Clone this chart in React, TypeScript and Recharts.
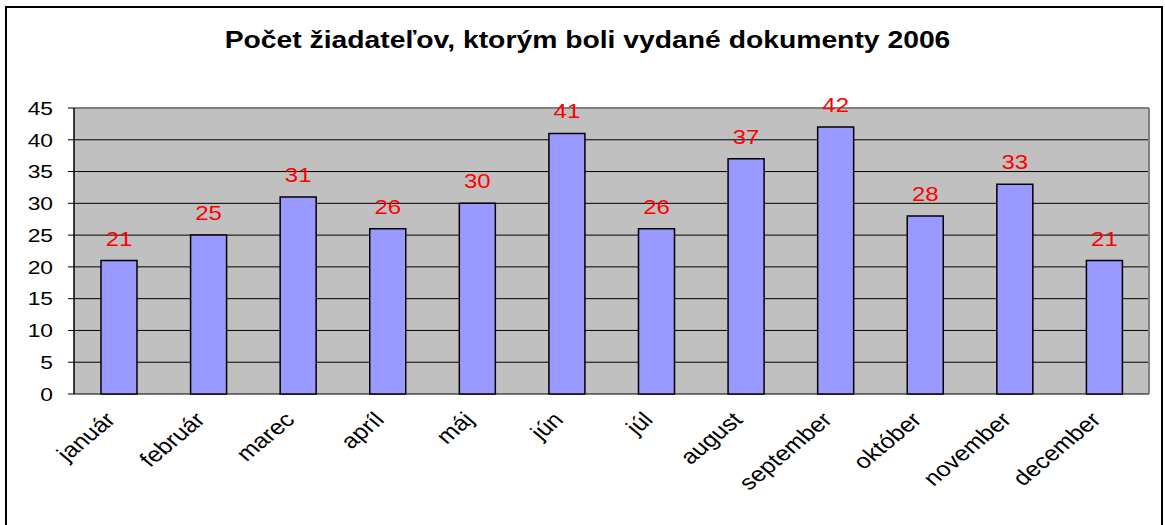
import React from 'react'
import { BarChart, Bar, XAxis, YAxis, CartesianGrid, LabelList } from 'recharts'

const months = ['január', 'február', 'marec', 'apríl', 'máj', 'jún', 'júl', 'august', 'september', 'október', 'november', 'december']
const counts = [21, 25, 31, 26, 30, 41, 26, 37, 42, 28, 33, 21]
const yTicks = [0, 5, 10, 15, 20, 25, 30, 35, 40, 45]
const boundaryTicks = [0, 1, 2, 3, 4, 5, 6, 7, 8, 9, 10, 11, 12]

const data = months.map((m, i) => ({ month: m, value: counts[i] }))

const FONT = '"Liberation Sans", Arial, sans-serif'
// the original picture is stretched sideways a little, so are its letters
const STRETCH = 1.2

const MonthTick = (props: any) => {
  const { x, y, payload } = props
  return (
    <text
      transform={`translate(${x - 2}, ${y + 19}) scale(${STRETCH}, 1) rotate(-45)`}
      textAnchor="end"
      fontSize={21}
      fontFamily={FONT}
      fill="#000"
    >
      {payload.value}
    </text>
  )
}

const ValueTick = (props: any) => {
  const { x, y, payload } = props
  return (
    <text
      transform={`translate(${x}, ${y}) scale(${STRETCH}, 1)`}
      dy="0.355em"
      textAnchor="end"
      fontSize={19}
      fontFamily={FONT}
      fill="#000"
    >
      {payload.value}
    </text>
  )
}

const BarValue = (props: any) => {
  const { x, y, width, value } = props
  return (
    <text
      transform={`translate(${x + width / 2}, ${y - 15}) scale(${STRETCH}, 1)`}
      textAnchor="middle"
      fontSize={20}
      fontFamily={FONT}
      fill="#FF0000"
    >
      {value}
    </text>
  )
}

export default function App() {
  return (
    <div style={{ position: 'absolute', left: 0, top: 0, width: 1165, height: 525, overflow: 'hidden', background: '#fff' }}>
      {/* outer frame */}
      <div style={{ position: 'absolute', left: 5, top: 6, width: 1154, height: 540, border: '2px solid #000' }} />
      <div
        style={{
          position: 'absolute',
          left: 0,
          top: 29,
          width: 1175,
          textAlign: 'center',
          fontFamily: FONT,
          fontWeight: 'bold',
          fontSize: 23,
          lineHeight: '23px',
          color: '#000',
          transform: 'scaleX(1.23)',
        }}
      >
        Počet žiadateľov, ktorým boli vydané dokumenty 2006
      </div>
      <div style={{ position: 'absolute', left: 0, top: 0 }}>
        <BarChart
          width={1165}
          height={525}
          data={data}
          margin={{ top: 108, right: 16, left: 14, bottom: 31 }}
          barSize={36}
        >
          <CartesianGrid fill="#C0C0C0" vertical={false} stroke="#000" strokeWidth={1} />
          <CartesianGrid
            stroke="#808080"
            strokeWidth={2}
            horizontalCoordinatesGenerator={({ offset }: any) => [offset.top]}
            verticalCoordinatesGenerator={({ offset }: any) => [offset.left + offset.width]}
          />
          <XAxis
            xAxisId="bounds"
            type="number"
            domain={[0, 12]}
            ticks={boundaryTicks}
            height={0}
            tickSize={6}
            tickFormatter={() => ''}
            axisLine={{ stroke: '#808080', strokeWidth: 2 }}
            tickLine={{ stroke: '#000' }}
            allowDataOverflow
          />
          <XAxis
            dataKey="month"
            height={100}
            interval={0}
            axisLine={false}
            tickLine={false}
            tick={<MonthTick />}
          />
          <YAxis
            width={60}
            domain={[0, 45]}
            ticks={yTicks}
            interval={0}
            tickSize={6}
            tickMargin={15}
            axisLine={{ stroke: '#000', strokeWidth: 1.5 }}
            tickLine={{ stroke: '#000' }}
            tick={<ValueTick />}
          />
          <Bar dataKey="value" fill="#9999FF" stroke="#000" strokeWidth={1.5} isAnimationActive={false}>
            <LabelList dataKey="value" content={<BarValue />} />
          </Bar>
        </BarChart>
      </div>
    </div>
  )
}
